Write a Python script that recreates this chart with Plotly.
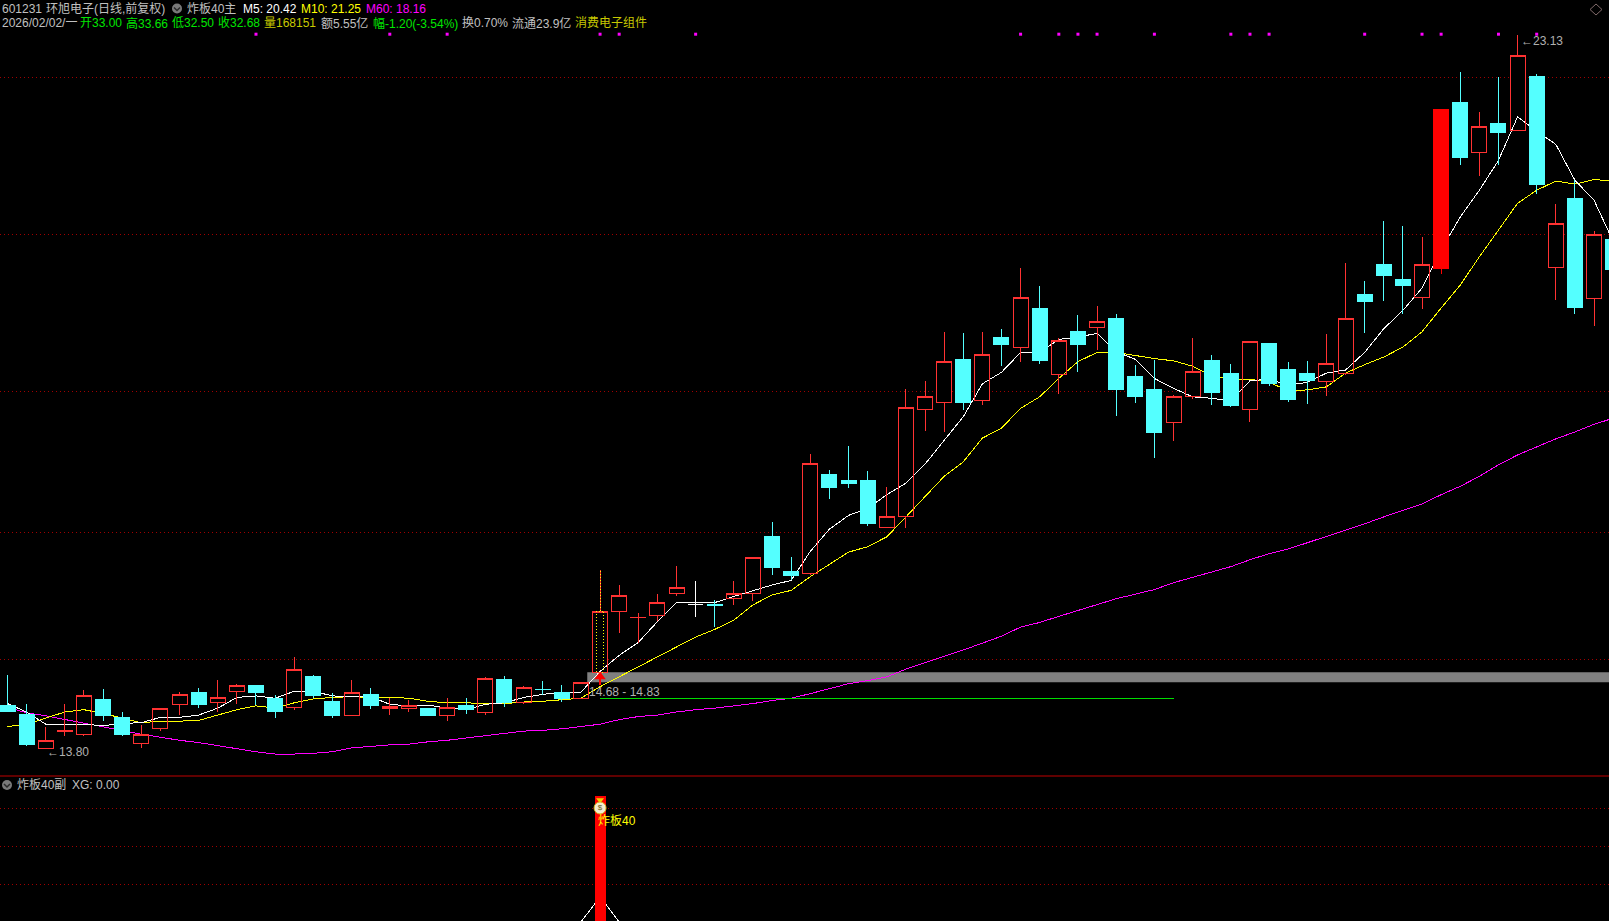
import plotly.graph_objects as go

# ---------- data ----------
OPEN = [14.37,14.25,13.80,14.02,13.98,14.44,14.21,13.87,14.06,14.38,
        14.54,14.40,14.55,14.63,14.46,14.34,14.75,14.42,14.24,14.51,
        14.32,14.32,14.32,14.24,14.36,14.27,14.71,14.41,14.58,14.54,
        14.45,14.80,15.60,15.51,15.54,15.83,15.69,15.69,15.77,15.83,
        16.57,16.12,16.09,17.39,17.31,17.31,16.69,16.84,18.24,18.32,
        18.89,18.35,19.18,19.05,19.56,18.69,19.26,19.30,19.43,18.66,
        18.50,18.06,18.40,18.88,18.70,18.24,19.10,18.76,18.70,18.60,
        18.71,19.74,20.13,19.93,19.70,20.08,22.25,21.59,21.97,21.88,
        22.59,20.09,20.99,19.68,20.46]
HIGH = [14.76,14.38,14.08,14.38,14.57,14.58,14.28,14.11,14.33,14.54,
        14.59,14.70,14.65,14.63,14.50,15.00,14.77,14.53,14.70,14.59,
        14.46,14.44,14.32,14.46,14.46,14.74,14.75,14.62,14.68,14.63,
        14.67,16.14,15.94,15.57,15.82,16.19,15.99,15.74,15.99,16.30,
        16.76,16.31,17.65,17.44,17.76,17.43,17.22,18.50,18.61,19.25,
        19.23,19.25,19.29,20.08,19.85,19.17,19.47,19.59,19.48,18.82,
        18.88,18.42,19.17,18.95,18.83,19.12,19.10,18.85,18.87,19.22,
        20.15,19.91,20.70,20.63,20.49,22.16,22.65,22.12,22.58,23.13,
        22.62,20.92,21.23,20.57,20.50]
LOW = [14.28,13.83,13.80,13.96,13.96,14.16,13.96,13.81,14.03,14.24,
       14.33,14.28,14.38,14.37,14.20,14.30,14.46,14.20,14.24,14.32,
       14.24,14.28,14.24,14.16,14.25,14.24,14.35,14.38,14.50,14.41,
       14.45,14.80,15.31,15.18,15.47,15.79,15.52,15.39,15.68,15.73,
       16.07,16.01,16.07,17.06,17.21,16.71,16.69,16.68,17.95,17.94,
       18.23,18.29,18.80,18.85,18.83,18.44,18.72,19.01,18.15,18.32,
       17.60,17.82,18.37,18.29,18.27,18.07,18.54,18.33,18.31,18.41,
       18.68,19.23,19.65,19.48,19.55,20.00,21.43,21.29,21.43,21.88,
       21.05,19.67,19.48,19.33,20.00]
CLOSE = [14.29,13.86,13.91,14.04,14.50,14.23,13.99,13.99,14.33,14.51,
         14.38,14.47,14.62,14.54,14.29,14.84,14.49,14.24,14.54,14.37,
         14.35,14.37,14.24,14.34,14.31,14.72,14.41,14.60,14.57,14.45,
         14.67,15.60,15.80,15.52,15.71,15.91,15.69,15.67,15.83,16.30,
         16.17,16.07,17.53,17.21,17.27,16.75,16.84,18.26,18.41,18.86,
         18.33,18.95,19.08,19.70,18.88,19.14,19.09,19.39,18.49,18.41,
         17.93,18.41,18.73,18.46,18.28,19.12,18.58,18.36,18.61,18.84,
         19.43,19.64,19.98,19.86,20.13,22.16,21.53,21.93,21.86,22.86,
         21.18,20.67,19.57,20.52,20.06]
MA5 = [14.39,14.28,14.12,14.11,14.12,14.10,14.13,14.14,14.21,14.21,
       14.24,14.33,14.47,14.49,14.46,14.55,14.55,14.49,14.48,14.48,
       14.38,14.36,14.37,14.33,14.31,14.38,14.40,14.47,14.51,14.54,
       14.54,14.81,15.02,15.19,15.46,15.71,15.71,15.71,15.79,15.87,
       15.94,16.00,16.38,16.67,16.85,16.94,17.12,17.27,17.52,17.83,
       18.14,18.57,18.72,18.98,18.98,19.15,19.18,19.23,18.99,18.89,
       18.64,18.51,18.40,18.38,18.35,18.61,18.63,18.55,18.59,18.71,
       18.75,18.98,19.29,19.53,19.82,20.32,20.75,21.10,21.49,22.06,
       21.87,21.70,21.23,20.97,20.43]
MA10 = [14.09,14.12,14.20,14.28,14.31,14.26,14.20,14.14,14.16,14.16,
        14.17,14.24,14.31,14.36,14.33,14.40,14.45,14.47,14.48,14.47,
        14.47,14.46,14.42,14.40,14.40,14.39,14.39,14.41,14.42,14.44,
        14.46,14.61,14.74,14.87,15.01,15.13,15.26,15.36,15.48,15.68,
        15.81,15.87,16.05,16.21,16.37,16.44,16.57,16.83,17.09,17.36,
        17.55,17.86,17.99,18.25,18.40,18.64,18.86,18.98,18.98,18.94,
        18.90,18.87,18.80,18.67,18.63,18.63,18.59,18.48,18.49,18.53,
        18.71,18.82,18.92,19.05,19.25,19.56,19.86,20.23,20.58,20.93,
        21.10,21.22,21.18,21.24,21.22]
MA60 = [14.34,14.27,14.23,14.18,14.13,14.09,14.04,13.99,13.95,13.91,
        13.88,13.84,13.80,13.76,13.73,13.73,13.74,13.76,13.81,13.83,
        13.85,13.86,13.89,13.91,13.94,13.97,14.00,14.03,14.04,14.06,
        14.09,14.12,14.18,14.22,14.24,14.28,14.31,14.33,14.36,14.39,
        14.43,14.46,14.52,14.59,14.65,14.69,14.74,14.84,14.92,15.01,
        15.09,15.18,15.27,15.39,15.45,15.53,15.61,15.69,15.76,15.82,
        15.88,15.97,16.04,16.11,16.18,16.27,16.35,16.41,16.49,16.57,
        16.65,16.74,16.83,16.91,17.00,17.12,17.23,17.36,17.51,17.64,
        17.75,17.85,17.94,18.04,18.12]
DOT_DAYS = [13,20,23,31,32,36,53,55,56,57,60,64,65,66,71,74,75,78,80]
DOT_LEVEL = 23.14
SOLID_DAY = 75
DOJI_DAY = 36
SIGNAL_DAY = 31
PRICE_GRID = [22.58,20.52,18.47,16.62,14.96]
BAND_TOP, BAND_BOTTOM = 14.80, 14.67
BAND_START = 30.33
GREEN_LEVEL = 14.45
GREEN_END = 61
ARROW_TAIL, ARROW_TIP = 14.63, 14.79
LOW_VALUE, HIGH_VALUE = 13.80, 23.13
LOW_DAY, HIGH_DAY = 2, 79
SUB_GRID = [0.9,0.6,0.3]
SIGNAL_BAR = 1.0
SIGNAL_LINE = 0.2

W, H = 1609, 921
RED, CYAN = "#ff3232", "#54ffff"
GRID = "#a00000"
TXT = "#c0c0c0"
FONT = "Liberation Sans, Noto Sans CJK SC, sans-serif"

days = list(range(len(OPEN)))
px_per_day = 19.115
x0_px = 7.5
x_range = [(0 - x0_px) / px_per_day, (W - x0_px) / px_per_day]
split_px = 776
def price_at(y): return 13.8 + (748.7 - y) * 0.013072
y_range = [price_at(split_px), price_at(0)]
sub_range = [(922 - 921) / 126, (922 - split_px) / 126]
split = 1 - split_px / H

def subset(idx):
    return dict(x=idx, open=[OPEN[i] for i in idx], high=[HIGH[i] for i in idx],
                low=[LOW[i] for i in idx], close=[CLOSE[i] for i in idx])

normal = [i for i in days if i not in (SOLID_DAY, DOJI_DAY)]
hollow = [i for i in normal if CLOSE[i] >= OPEN[i]]
def cdl(idx, yaxis, up_line, up_fill, dn_line, dn_fill):
    return go.Candlestick(**subset(idx), xaxis="x", yaxis=yaxis, whiskerwidth=0,
        increasing=dict(line=dict(color=up_line, width=1), fillcolor=up_fill),
        decreasing=dict(line=dict(color=dn_line, width=1), fillcolor=dn_fill),
        hoverinfo="skip", showlegend=False)

fig = go.Figure()
# black underlay keeps grid lines out of the hollow bodies while the averages still show
fig.add_trace(cdl(hollow, "y", "#000000", "#000000", "#000000", "#000000"))
for s, c in ((MA60, "#ff00ff"), (MA10, "#ffff00"), (MA5, "#ffffff")):
    fig.add_trace(go.Scatter(x=days, y=s, mode="lines", line=dict(color=c, width=1),
                             xaxis="x", yaxis="y", hoverinfo="skip", showlegend=False))
fig.add_trace(go.Scatter(x=[SIGNAL_DAY, GREEN_END], y=[GREEN_LEVEL, GREEN_LEVEL], mode="lines",
                         line=dict(color="#00dc00", width=1), xaxis="x", yaxis="y", showlegend=False))
# candles above the averages
fig.add_trace(cdl(normal, "y2", RED, "rgba(0,0,0,0)", CYAN, CYAN))
fig.add_trace(cdl([SOLID_DAY], "y2", "#ff0000", "#ff0000", "#ff0000", "#ff0000"))
fig.add_trace(cdl([DOJI_DAY], "y2", "#ffffff", "#ffffff", "#ffffff", "#ffffff"))
# dotted yellow mark on the signal day
d = SIGNAL_DAY
fig.add_trace(go.Scatter(x=[d-.17, d-.17, d+.17, d+.17, d-.17], y=[OPEN[d], CLOSE[d], CLOSE[d], OPEN[d], OPEN[d]],
                         mode="lines", line=dict(color="#ffff00", width=1, dash="1px,2px"),
                         xaxis="x", yaxis="y2", showlegend=False))
fig.add_trace(go.Scatter(x=[d, d], y=[CLOSE[d], HIGH[d]], mode="lines",
                         line=dict(color="#ffff00", width=1, dash="1px,2px"),
                         xaxis="x", yaxis="y2", showlegend=False))
# up arrow
fig.add_trace(go.Scatter(x=[d, d], y=[ARROW_TAIL, ARROW_TIP - 0.05], mode="lines",
                         line=dict(color="#ff0000", width=2), xaxis="x", yaxis="y2", showlegend=False))
fig.add_trace(go.Scatter(x=[d], y=[ARROW_TIP - 0.05], mode="markers",
                         marker=dict(symbol="triangle-up", size=10, color="#ff0000"),
                         xaxis="x", yaxis="y2", showlegend=False))
# magenta dots along the top
fig.add_trace(go.Scatter(x=DOT_DAYS, y=[DOT_LEVEL] * len(DOT_DAYS), mode="markers",
                         marker=dict(symbol="square", size=3, color="#ff00ff", line=dict(width=0)),
                         xaxis="x", yaxis="y2", showlegend=False))
# lower panel
sig = [SIGNAL_LINE if i == SIGNAL_DAY else 0 for i in days]
fig.add_trace(go.Scatter(x=days, y=sig, mode="lines", line=dict(color="#ffffff", width=1),
                         xaxis="x2", yaxis="y3", showlegend=False))
fig.add_trace(go.Bar(x=[SIGNAL_DAY], y=[SIGNAL_BAR], width=[0.576], marker=dict(color="#ff0000", line=dict(width=0)),
                     xaxis="x2", yaxis="y4", showlegend=False))
# money bag
fig.add_trace(go.Scatter(x=[SIGNAL_DAY], y=[0.968], mode="markers",
                         marker=dict(symbol="triangle-down", size=7, color="#f0d000"),
                         xaxis="x2", yaxis="y4", showlegend=False))
fig.add_trace(go.Scatter(x=[SIGNAL_DAY], y=[0.905], mode="markers+text", text=["$"],
                         textposition="middle center", textfont=dict(size=8, color="#6a5a20", family=FONT),
                         marker=dict(symbol="circle", size=12, color="#f3ecd0", line=dict(color="#d8b820", width=1)),
                         xaxis="x2", yaxis="y4", showlegend=False))

def px(x): return x / W
def py(y): return 1 - y / H
def label(x, y, text, color=TXT, size=12):
    return dict(xref="paper", yref="paper", x=px(x), y=py(y), text=text, showarrow=False,
                xanchor="left", yanchor="middle", font=dict(family=FONT, size=size, color=color),
                borderpad=0, borderwidth=0)

GREEN = "#00e600"
DIM = "#c8c800"
annotations = [
    label(2, 8.5, "601231"),
    label(45.5, 8.5, "环旭电子(日线,前复权)"),
    label(187, 8.5, "炸板40主"),
    label(243, 8.5, "M5: 20.42", "#ffffff"),
    label(301, 8.5, "M10: 21.25", "#ffff00"),
    label(366, 8.5, "M60: 18.16", "#ff00ff"),
    label(2, 23, "2026/02/02/一"),
    label(80, 23, "开33.00", GREEN),
    label(126, 23, "高33.66", GREEN),
    label(172, 23, "低32.50", GREEN),
    label(218, 23, "收32.68", GREEN),
    label(264, 23, "量168151", DIM),
    label(321, 23, "额5.55亿"),
    label(373, 23, "幅-1.20(-3.54%)", GREEN),
    label(462, 23, "换0.70%"),
    label(512, 23, "流通23.9亿"),
    label(575, 23, "消费电子组件", DIM),
    label(17, 785, "炸板40副"),
    label(72, 785, "XG: 0.00"),
    label(598, 821, "炸板40", "#ffff00"),
    label(589, 692, f"{14.68:.2f} - {14.83:.2f}", "#b0b0b0"),
    dict(xref="x", yref="y", x=LOW_DAY, y=LOW_VALUE, text=f"←{LOW_VALUE:.2f}", showarrow=False, xanchor="left",
         yanchor="middle", xshift=0, yshift=-3, font=dict(family=FONT, size=12, color="#b0b0b0"), borderpad=0),
    dict(xref="x", yref="y", x=HIGH_DAY, y=HIGH_VALUE, text=f"←{HIGH_VALUE:.2f}", showarrow=False, xanchor="left",
         yanchor="middle", xshift=2, yshift=-6, font=dict(family=FONT, size=12, color="#b0b0b0"), borderpad=0),
]

def circle(cx, cy, r=5):
    return dict(type="circle", xref="paper", yref="paper", x0=px(cx-r), x1=px(cx+r), y0=py(cy+r), y1=py(cy-r),
                fillcolor="#7a7a7a", line=dict(width=0), layer="above")
def chevron(cx, cy):
    return dict(type="path", xref="paper", yref="paper",
                path=f"M {px(cx-3)} {py(cy-1)} L {px(cx)} {py(cy+2)} L {px(cx+3)} {py(cy-1)}",
                line=dict(color="#2a2a2a", width=1.5), layer="above")
shapes = [
    dict(type="rect", xref="x", yref="y", x0=BAND_START, x1=x_range[1] + 1, y0=BAND_BOTTOM, y1=BAND_TOP,
         fillcolor="#808080", line=dict(width=0), layer="below"),
    dict(type="line", xref="paper", yref="paper", x0=0, x1=1, y0=py(776), y1=py(776),
         line=dict(color="#c00000", width=1), layer="above"),
    circle(177, 8.5), chevron(177, 8.5), circle(7, 785), chevron(7, 785),
    dict(type="path", xref="paper", yref="paper",
         path=f"M {px(1596)} {py(4)} L {px(1602)} {py(9.5)} L {px(1596)} {py(15)} L {px(1590)} {py(9.5)} Z",
         line=dict(color="#806a6a", width=1), layer="above"),
]

hide_x = dict(range=x_range, showgrid=False, zeroline=False, showticklabels=False, showline=False, ticks="",
              fixedrange=True, rangeslider=dict(visible=False))
grid = dict(showgrid=True, gridcolor=GRID, gridwidth=1, griddash="1px,3px", zeroline=False,
            showticklabels=False, showline=False, ticks="", tickmode="array", fixedrange=True)
fig.update_layout(
    width=W, height=H, autosize=False, margin=dict(l=0, r=0, t=0, b=0, pad=0),
    paper_bgcolor="#000000", plot_bgcolor="#000000", showlegend=False, hovermode=False,
    boxgap=0.215, boxgroupgap=0, bargap=0,
    xaxis=dict(domain=[0, 1], anchor="y", **hide_x),
    xaxis2=dict(domain=[0, 1], anchor="y3", **hide_x),
    yaxis=dict(domain=[split, 1], range=y_range, tickvals=PRICE_GRID, anchor="x", **grid),
    yaxis2=dict(overlaying="y", range=y_range, anchor="x", visible=False, fixedrange=True),
    yaxis3=dict(domain=[0, split], range=sub_range, tickvals=SUB_GRID, anchor="x2", **grid),
    yaxis4=dict(overlaying="y3", range=sub_range, anchor="x2", visible=False, fixedrange=True),
    annotations=annotations, shapes=shapes,
)
fig.write_html("out.html", config=dict(displayModeBar=False),
               post_script=("document.body.style.margin='0';document.body.style.background='#000';"
                            "document.querySelectorAll('.scatterlayer .js-line, .boxlayer path')"
                            ".forEach(function(p){p.style.shapeRendering='crispEdges';});"))
